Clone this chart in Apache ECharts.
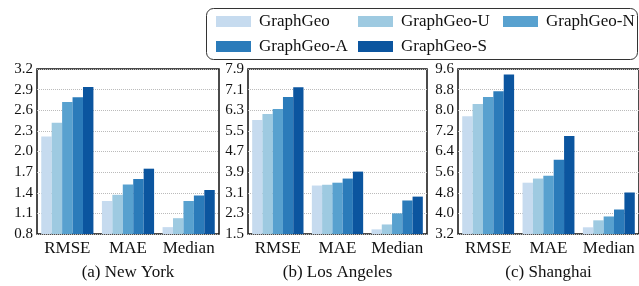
<!DOCTYPE html>
<html>
<head>
<meta charset="utf-8">
<script src="https://cdn.jsdelivr.net/npm/echarts@6/dist/echarts.min.js"></script>
<style>
  html, body { margin: 0; padding: 0; background: #fff; }
  #chart { width: 639px; height: 286px; }
</style>
</head>
<body>
<div id="chart"></div>
<script>
const models = ['GraphGeo', 'GraphGeo-U', 'GraphGeo-N', 'GraphGeo-A', 'GraphGeo-S'];
const metrics = ['RMSE', 'MAE', 'Median'];
const cityTitles = ['(a) New York', '(b) Los Angeles', '(c) Shanghai'];

// one row per model, columns = RMSE, MAE, Median
const newYork = [
  [2.22, 1.28, 0.90],
  [2.42, 1.37, 1.03],
  [2.72, 1.52, 1.28],
  [2.79, 1.60, 1.36],
  [2.94, 1.75, 1.44]
];
const losAngeles = [
  [5.92, 3.38, 1.68],
  [6.15, 3.41, 1.87],
  [6.35, 3.49, 2.30],
  [6.81, 3.65, 2.80],
  [7.19, 3.92, 2.95]
];
const shanghai = [
  [7.77, 5.19, 3.46],
  [8.24, 5.35, 3.73],
  [8.51, 5.46, 3.88],
  [8.74, 6.08, 4.15],
  [9.39, 7.00, 4.81]
];

// y axis: min, max, step
const nyAxis = [0.8, 3.2, 0.3];
const laAxis = [1.5, 7.9, 0.8];
const shAxis = [3.2, 9.6, 0.8];

const colors = ['#c6dbef', '#9ecae1', '#58a1cf', '#2b7bba', '#0b559f'];
const font = 'Liberation Serif';

const chart = echarts.init(document.getElementById('chart'));

const cities = [newYork, losAngeles, shanghai];
const axes = [nyAxis, laAxis, shAxis];
const grids = [
  { left: 37, top: 69, width: 182, height: 168 },
  { left: 248, top: 69, width: 179, height: 168 },
  { left: 458, top: 69, width: 183, height: 168 }
];

let xAxis = [], yAxis = [], series = [];
grids.forEach((g, i) => {
  g.show = true;
  g.borderColor = '#111';
  g.borderWidth = 1.5;
  g.containLabel = false;
  xAxis.push({
    type: 'category',
    gridIndex: i,
    data: metrics,
    name: cityTitles[i],
    nameLocation: 'middle',
    nameGap: 30,
    nameTextStyle: { fontFamily: font, fontSize: 17, color: '#111' },
    axisLine: { show: false },
    axisTick: { show: false },
    axisLabel: { interval: 0, hideOverlap: false, fontFamily: font, fontSize: 17, color: '#111', margin: 6 }
  });
  yAxis.push({
    type: 'value',
    gridIndex: i,
    min: axes[i][0],
    max: axes[i][1],
    interval: axes[i][2],
    axisLine: { show: false },
    axisTick: { show: false },
    axisLabel: {
      fontFamily: font, fontSize: 15, color: '#111', margin: 4,
      formatter: v => v.toFixed(1)
    },
    splitLine: { lineStyle: { type: 'dotted', color: '#bbb', width: 1 } }
  });
  models.forEach((m, k) => {
    series.push({
      type: 'bar',
      name: m,
      xAxisIndex: i,
      yAxisIndex: i,
      data: cities[i][k],
      itemStyle: { color: colors[k] },
      barGap: '0%',
      barCategoryGap: '14%'
    });
  });
});

// legend positions, two rows
const legendPos = [
  [216, 13], [358, 13], [503, 13],
  [216, 38], [358, 38]
];
const legend = models.map((m, k) => ({
  data: [m],
  left: legendPos[k][0],
  top: legendPos[k][1],
  padding: 0,
  itemWidth: 35,
  itemHeight: 11,
  icon: 'rect',
  textStyle: { fontFamily: font, fontSize: 17, color: '#111', padding: [0, 0, 0, 3] }
}));

chart.setOption({
  animation: false,
  color: colors,
  grid: grids,
  xAxis: xAxis,
  yAxis: yAxis,
  legend: legend,
  series: series,
  graphic: [{
    type: 'rect',
    shape: { x: 206.5, y: 8.5, width: 431, height: 51, r: 7 },
    style: { fill: 'none', stroke: '#333', lineWidth: 1 },
    silent: true
  }]
});
</script>
</body>
</html>
